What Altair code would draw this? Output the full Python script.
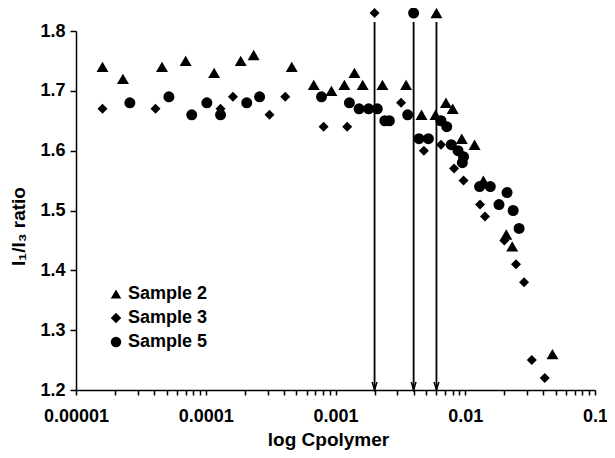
import altair as alt
import pandas as pd

# ---- data ----
s2_x = [1.6e-5, 2.3e-5, 4.6e-5, 7.0e-5, 1.16e-4, 1.86e-4, 2.34e-4, 4.6e-4, 6.8e-4,
        9.3e-4, 1.17e-3, 1.4e-3, 1.62e-3, 2.3e-3, 3.5e-3, 4.6e-3, 5.9e-3, 7.1e-3,
        8.0e-3, 9.4e-3, 1.18e-2, 1.38e-2, 2.07e-2, 2.3e-2, 4.7e-2]
s2_y = [1.74, 1.72, 1.74, 1.75, 1.73, 1.75, 1.76, 1.74, 1.71,
        1.70, 1.71, 1.73, 1.71, 1.71, 1.71, 1.66, 1.66, 1.68,
        1.67, 1.62, 1.61, 1.55, 1.46, 1.44, 1.26]

s3_x = [1.6e-5, 4.1e-5, 1.3e-4, 1.62e-4, 3.1e-4, 4.1e-4, 8.1e-4, 1.23e-3, 3.2e-3,
        4.8e-3, 6.5e-3, 8.2e-3, 9.7e-3, 1.3e-2, 1.42e-2, 2.0e-2, 2.46e-2, 2.84e-2,
        3.26e-2, 4.1e-2]
s3_y = [1.67, 1.67, 1.67, 1.69, 1.66, 1.69, 1.64, 1.64, 1.68,
        1.60, 1.61, 1.57, 1.55, 1.51, 1.49, 1.45, 1.41, 1.38,
        1.25, 1.22]

s5_x = [2.6e-5, 5.2e-5, 7.8e-5, 1.02e-4, 1.3e-4, 2.07e-4, 2.6e-4, 7.8e-4, 1.28e-3,
        1.52e-3, 1.8e-3, 2.1e-3, 2.4e-3, 2.6e-3, 3.6e-3, 4.4e-3, 5.2e-3, 6.5e-3,
        7.2e-3, 7.8e-3, 8.8e-3, 9.7e-3, 9.5e-3, 1.29e-2, 1.56e-2, 2.1e-2, 1.82e-2,
        2.34e-2, 2.6e-2]
s5_y = [1.68, 1.69, 1.66, 1.68, 1.66, 1.68, 1.69, 1.69, 1.68,
        1.67, 1.67, 1.67, 1.65, 1.65, 1.66, 1.62, 1.62, 1.65,
        1.64, 1.61, 1.60, 1.59, 1.58, 1.54, 1.54, 1.53, 1.51,
        1.50, 1.47]

series_names = ["Sample 2", "Sample 3", "Sample 5"]
series_shapes = ["triangle-up", "diamond", "circle"]
series_sizes = [144, 100, 121]

arrow_x = [0.002, 0.004, 0.006]
arrow_series = ["Sample 3", "Sample 5", "Sample 2"]
arrow_marker_y = 1.83
arrow_line_top = 1.815
arrow_bottom = 1.2

x_major = [1e-5, 1e-4, 1e-3, 1e-2, 1e-1]
x_major_labels = ["0.00001", "0.0001", "0.001", "0.01", "0.1"]
y_ticks = [1.2, 1.3, 1.4, 1.5, 1.6, 1.7, 1.8]

# ---- tables ----
rows = []
for name, xs, ys in [("Sample 2", s2_x, s2_y), ("Sample 3", s3_x, s3_y), ("Sample 5", s5_x, s5_y)]:
    for a, b in zip(xs, ys):
        rows.append({"x": a, "y": b, "series": name})
# markers sitting on top of the arrows
for a, name in zip(arrow_x, arrow_series):
    rows.append({"x": a, "y": arrow_marker_y, "series": name})
points = pd.DataFrame(rows)

arrows = pd.DataFrame({
    "x": arrow_x,
    "top": [arrow_line_top] * len(arrow_x),
    "bottom": [arrow_bottom] * len(arrow_x),
})

x_all_ticks = []
for d in x_major[:-1]:
    for m in range(1, 10):
        x_all_ticks.append(m * d)
x_all_ticks.append(x_major[-1])

label_expr = ""
for v, lab in zip(x_major, x_major_labels):
    label_expr += f"abs(datum.value - {v!r}) < {v * 1e-6!r} ? '{lab}' : "
label_expr += "''"

FONT = "Liberation Sans"

x_scale = alt.Scale(type="log", domain=[x_major[0], x_major[-1]], nice=False)
y_scale = alt.Scale(domain=[y_ticks[0], y_ticks[-1]], nice=False, zero=False)

x_axis = alt.Axis(
    values=x_all_ticks, labelExpr=label_expr, labelOverlap=False, labelFlush=False,
    tickSize=5, labelPadding=12, title="log Cpolymer",
    titleX=252, titleY=55, titleBaseline="alphabetic",
)
y_axis = alt.Axis(
    values=y_ticks, format=".1f", tickSize=6, labelPadding=5,
    title="I\u2081/I\u2083 ratio", titleX=-48, titleY=195,
)

shape_scale = alt.Scale(domain=series_names, range=series_shapes)

rules = alt.Chart(arrows).mark_rule(color="black", strokeWidth=1.8, clip=False).encode(
    x=alt.X("x:Q", scale=x_scale, axis=x_axis),
    y=alt.Y("top:Q", scale=y_scale, axis=y_axis),
    y2="bottom:Q",
)

heads = alt.Chart(arrows).mark_point(
    shape="M-0.6,-2L0,0L0.6,-2", filled=False, size=64, color="black",
    strokeWidth=1.5, opacity=1, clip=False,
).encode(
    x=alt.X("x:Q", scale=x_scale),
    y=alt.Y("bottom:Q", scale=y_scale),
)

legend = alt.Legend(
    orient="none", legendX=31, legendY=254, title=None,
    labelFont=FONT, labelFontSize=18, labelFontWeight="bold", labelColor="black",
    symbolSize=110, symbolFillColor="black", symbolStrokeColor="black",
    symbolStrokeWidth=0, symbolOpacity=1, rowPadding=6, labelOffset=3, padding=0,
)

point_layers = []
for name, sz in zip(series_names, series_sizes):
    point_layers.append(
        alt.Chart(points)
        .transform_filter(alt.datum.series == name)
        .mark_point(filled=True, color="black", opacity=1, strokeWidth=0, size=sz, clip=False)
        .encode(
            x=alt.X("x:Q", scale=x_scale),
            y=alt.Y("y:Q", scale=y_scale),
            shape=alt.Shape("series:N", scale=shape_scale, legend=legend),
        )
    )

chart = alt.layer(rules, heads, *point_layers).properties(
    width=519, height=359,
    autosize=alt.AutoSizeParams(type="none"),
    padding={"left": 68, "top": 23, "right": 12, "bottom": 60},
).configure_view(
    stroke="transparent",
).configure_axis(
    grid=False, domainColor="black", domainWidth=1.5, tickColor="black", tickWidth=1.5,
    labelFont=FONT, labelFontSize=18, labelFontWeight="bold", labelColor="black",
    titleFont=FONT, titleFontSize=19, titleFontWeight="bold", titleColor="black",
)

chart.save("out.html", embed_options={"renderer": "svg", "actions": False})
